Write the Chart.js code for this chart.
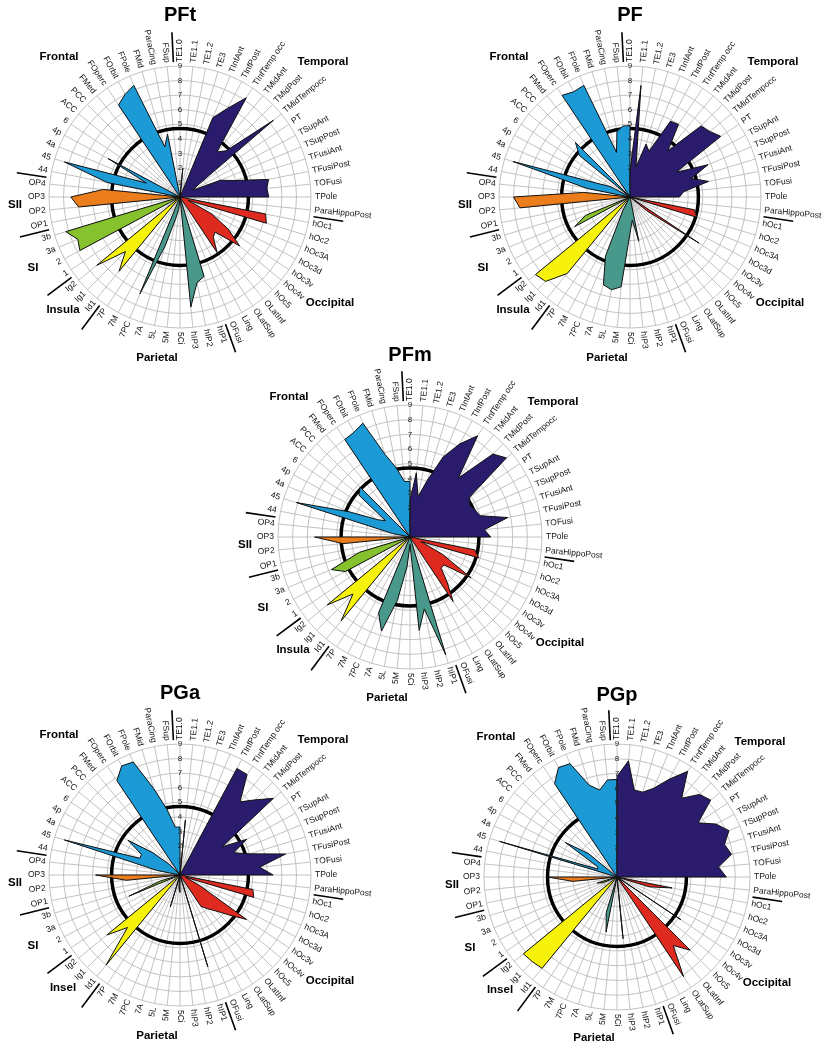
<!DOCTYPE html>
<html>
<head>
<meta charset="utf-8">
<script src="https://cdn.jsdelivr.net/npm/chart.js@4.4.1/dist/chart.umd.min.js"></script>
<style>
  body { margin: 0; background: #fff; }
  #page { position: relative; width: 831px; height: 1050px; overflow: hidden; }
  #page canvas { position: absolute; }
</style>
</head>
<body>
<div id="page"></div>
<script>
// categories, clockwise from the top spoke
const temporal = ['TE1.0', 'TE1.1', 'TE1.2', 'TE3', 'TInfAnt', 'TInfPost', 'TInfTemp occ', 'TMidAnt', 'TMidPost', 'TMidTempocc', 'PT', 'TSupAnt', 'TSupPost', 'TFusiAnt', 'TFusiPost', 'TOFusi', 'TPole', 'ParaHippoPost']
const occipital = ['hOc1', 'hOc2', 'hOc3A', 'hOc3d', 'hOc3v', 'hOc4v', 'hOc5', 'OLatInf', 'OLatSup', 'Ling', 'OFusi']
const parietal = ['hIP1', 'hIP2', 'hIP3', '5Ci', '5M', '5L', '7A', '7PC', '7M', '7P']
const insula = ['Id1', 'Ig1', 'Ig2']
const si = ['1', '2', '3a', '3b']
const sii = ['OP1', 'OP2', 'OP3', 'OP4']
const frontal = ['44', '45', '4a', '4p', '6', 'ACC', 'PCC', 'FMed', 'FOperc', 'FOrbit', 'FPole', 'FMid', 'ParaCing', 'FSup']

// values per area, same order as the labels above
// (temporal | occipital | parietal | insula | SI | SII | frontal)
const pftValues = [
  0, 2.0, 0, 0, 5.9, 6.9, 8.2, 4.0, 4.5, 8.3, 1.5, 1.0, 3.0, 3.9, 6.2, 6.0, 6.1, 0,
  6.0, 6.2, 0.6, 2.5, 4.0, 5.3, 3.4, 3.6, 4.6, 0, 0,
  5.7, 6.0, 7.6, 0, 0.8, 1.5, 3.5, 7.2, 0, 0,
  6.6, 5.3, 7.4,
  0, 7.8, 7.6, 8.2,
  0, 7.0, 7.5, 5.3,
  5.1, 8.3, 2.5, 5.6, 0, 0, 0, 0, 7.6, 8.0, 8.3, 3.6, 4.4, 0
]
const pfValues = [
  1.8, 7.7, 2.1, 3.8, 3.4, 5.9, 6.0, 4.1, 6.9, 7.1, 7.5, 3.6, 5.8, 4.4, 5.5, 3.7, 3.4, 0,
  4.5, 4.8, 0, 0, 5.7, 1.5, 0, 0, 0, 0, 0,
  0, 3.1, 1.6, 2.5, 6.2, 6.5, 6.3, 4.4, 1.0, 0,
  6.8, 8.2, 8.4,
  0, 4.3, 3.3, 0,
  0, 7.6, 8.0, 3.2,
  3.0, 8.4, 2.5, 1.5, 0, 4.5, 5.3, 0, 8.4, 8.2, 8.3, 3.2, 4.6, 4.9
]
const pfmValues = [
  2.5, 4.4, 2.8, 4.0, 5.9, 7.2, 8.3, 5.2, 8.0, 8.5, 4.9, 4.6, 4.8, 5.0, 6.8, 5.1, 5.5, 0,
  4.5, 4.9, 0.8, 2.5, 5.0, 3.0, 3.0, 4.0, 5.3, 0, 0,
  8.4, 5.0, 6.4, 0.5, 2.0, 4.4, 6.7, 5.6, 0, 0,
  7.4, 5.5, 7.3,
  0, 5.0, 5.8, 3.6,
  0, 4.6, 6.5, 0,
  1.2, 8.1, 4.5, 2.5, 2.0, 4.5, 4.8, 0, 8.0, 8.1, 8.4, 5.9, 4.8, 3.8
]
const pgaValues = [
  0, 3.8, 0, 0, 0, 8.3, 8.3, 6.5, 7.3, 8.3, 3.5, 5.2, 4.0, 5.0, 7.4, 5.5, 6.4, 0,
  5.1, 5.3, 0.4, 1.5, 5.5, 4.3, 3.5, 3.0, 2.6, 0, 0,
  6.6, 0, 0, 1.2, 0.8, 0, 2.3, 0, 0, 0,
  8.0, 5.1, 6.5,
  0, 0, 3.8, 1.4,
  0, 3.7, 5.8, 0,
  1.6, 8.3, 3.0, 3.0, 4.3, 2.4, 1.0, 0, 7.8, 8.5, 8.4, 6.2, 4.6, 3.3
]
const pgpValues = [
  6.8, 7.9, 6.0, 6.0, 6.5, 7.5, 8.6, 6.9, 7.9, 8.2, 6.6, 7.6, 8.2, 7.6, 7.9, 6.9, 7.4, 0,
  3.8, 2.3, 0, 0, 5.2, 0, 7.0, 6.0, 8.1, 0, 0,
  0, 0, 4.2, 0, 0, 3.8, 2.5, 0, 0, 0,
  8.0, 8.1, 8.2,
  0, 0, 1.0, 1.4,
  0, 3.0, 4.7, 0,
  0, 8.3, 1.4, 1.5, 4.2, 2.5, 0, 0, 7.6, 8.4, 8.3, 6.5, 6.0, 6.6
]

const refCircle = 4.7  // the thick black ring

const lobes = [
  { name: 'Temporal', labels: temporal, color: '#2b1b6d', at: [143, -135] },
  { name: 'Occipital', labels: occipital, color: '#de2a1f', at: [150, 106] },
  { name: 'Parietal', labels: parietal, color: '#48998b', at: [-23, 161] },
  { name: 'Insula', labels: insula, color: '#f6f20c', at: [-117, 113] },
  { name: 'SI', labels: si, color: '#86c22e', at: [-147, 71] },
  { name: 'SII', labels: sii, color: '#ec7d1c', at: [-165, 8] },
  { name: 'Frontal', labels: frontal, color: '#1c9ad6', at: [-121, -140], wrap: true }
]
const allLabels = lobes.flatMap(l => l.labels)

const charts = [
  { title: 'PFt', values: pftValues, x: 180, y: 197, radius: 131, insulaName: 'Insula' },
  { title: 'PF', values: pfValues, x: 630, y: 197, radius: 131, insulaName: 'Insula' },
  { title: 'PFm', values: pfmValues, x: 410, y: 537, radius: 132, insulaName: 'Insula' },
  { title: 'PGa', values: pgaValues, x: 180, y: 875, radius: 131, insulaName: 'Insel' },
  { title: 'PGp', values: pgpValues, x: 617, y: 877, radius: 133, insulaName: 'Insel' }
]

const FONT = '"Liberation Sans", Arial, Helvetica, sans-serif'
const SIZE = 420

function buildDatasets (values) {
  let start = 0
  return lobes.map(lobe => {
    const data = allLabels.map(() => 0)
    lobe.labels.forEach((l, k) => { data[start + k] = values[start + k] })
    // frontal wedge closes onto the top spoke, as in the figure
    if (lobe.wrap) data[0] = values[start + lobe.labels.length - 1]
    start += lobe.labels.length
    return {
      label: lobe.name,
      data: data,
      backgroundColor: lobe.color,
      borderColor: '#111',
      borderWidth: 1,
      fill: 'origin',
      pointRadius: 0,
      tension: 0
    }
  })
}

const decor = {
  id: 'decor',
  beforeDatasetsDraw: (chart) => {
    const r = chart.scales.r
    const ctx = chart.ctx
    ctx.save()
    ctx.strokeStyle = '#000'
    ctx.lineWidth = 3.5
    ctx.beginPath()
    ctx.arc(r.xCenter, r.yCenter, r.getDistanceFromCenterForValue(refCircle), 0, Math.PI * 2)
    ctx.stroke()
    ctx.restore()
  },
  afterDraw: (chart) => {
    const r = chart.scales.r
    const ctx = chart.ctx
    const spec = chart.options.plugins.decor
    const outer = r.drawingArea
    const step = Math.PI * 2 / allLabels.length

    ctx.save()
    // rotated category labels
    ctx.font = '8.5px ' + FONT
    ctx.fillStyle = '#111'
    ctx.textBaseline = 'middle'
    allLabels.forEach((label, i) => {
      const a = r.getIndexAngle(i)
      const p = r.getPointPosition(i, outer + 4)
      ctx.save()
      ctx.translate(p.x, p.y)
      if (a <= Math.PI + 0.001) {
        ctx.rotate(a - Math.PI / 2)
        ctx.textAlign = 'left'
      } else {
        ctx.rotate(a + Math.PI / 2)
        ctx.textAlign = 'right'
      }
      ctx.fillText(label, 0, 0)
      ctx.restore()
    })

    // separators between areas
    ctx.strokeStyle = '#000'
    ctx.lineWidth = 1.6
    let start = 0
    lobes.forEach(lobe => {
      const a = r.getIndexAngle(start) - step / 2 - Math.PI / 2
      ctx.beginPath()
      ctx.moveTo(r.xCenter + Math.cos(a) * (outer + 4), r.yCenter + Math.sin(a) * (outer + 4))
      ctx.lineTo(r.xCenter + Math.cos(a) * (outer + 34), r.yCenter + Math.sin(a) * (outer + 34))
      ctx.stroke()
      start += lobe.labels.length
    })

    // area names
    ctx.font = 'bold 11.5px ' + FONT
    ctx.fillStyle = '#000'
    ctx.textAlign = 'center'
    lobes.forEach(lobe => {
      const name = lobe.name === 'Insula' ? spec.insulaName : lobe.name
      ctx.fillText(name, r.xCenter + lobe.at[0], r.yCenter + lobe.at[1])
    })

    // chart title
    ctx.font = 'bold 20px ' + FONT
    ctx.fillText(spec.title, r.xCenter, r.yCenter - 182)
    ctx.restore()
  }
}

const page = document.getElementById('page')

charts.forEach(spec => {
  const canvas = document.createElement('canvas')
  canvas.width = SIZE
  canvas.height = SIZE
  canvas.style.left = (spec.x - SIZE / 2) + 'px'
  canvas.style.top = (spec.y - SIZE / 2) + 'px'
  page.appendChild(canvas)

  new Chart(canvas, {
    type: 'radar',
    data: {
      labels: allLabels,
      datasets: buildDatasets(spec.values)
    },
    options: {
      responsive: false,
      animation: false,
      layout: { padding: 206 - spec.radius },
      plugins: {
        legend: { display: false },
        tooltip: { enabled: false },
        decor: { title: spec.title, insulaName: spec.insulaName }
      },
      scales: {
        r: {
          min: 0,
          max: 9,
          ticks: {
            stepSize: 1,
            showLabelBackdrop: false,
            backdropPadding: 0,
            color: '#222',
            font: { size: 8, family: FONT },
            z: 1
          },
          grid: { circular: true, color: '#b4b4b4', lineWidth: 0.8 },
          angleLines: { color: '#b4b4b4', lineWidth: 0.8 },
          pointLabels: { display: false }
        }
      }
    },
    plugins: [decor]
  })
})
</script>
</body>
</html>
